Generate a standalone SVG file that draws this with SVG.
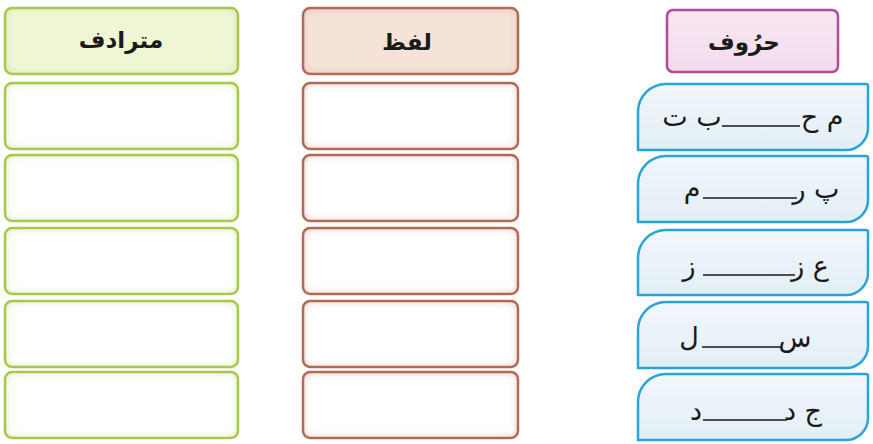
<svg xmlns="http://www.w3.org/2000/svg" width="873" height="444" viewBox="0 0 873 444">
<style>
.ur{font-family:"DejaVu Sans","Noto Sans",sans-serif;fill:#1a1a1a;text-anchor:middle;}
.hd{font-size:23px;font-weight:bold;}
.lt{font-size:27px;}
.gS{fill:none;stroke:#a8c84c;stroke-width:2.5;}
.bS{fill:none;stroke:#b06b57;stroke-width:2.5;}
.gF{fill:#ffffff;filter:url(#glowG);}
.gH{fill:#eff6d6;filter:url(#glowG);}
.bF{fill:#ffffff;filter:url(#glowB);}
.bH{fill:#f5e2d9;filter:url(#glowB);}
.blue{fill:url(#blueFill);stroke:#2aa3d6;stroke-width:2.5;}
.blank{stroke:#1a1a1a;stroke-width:1.6;}
</style>
<defs>
<filter id="glowG" x="-5%" y="-10%" width="110%" height="120%">
<feFlood flood-color="#cfe297"/>
<feComposite in2="SourceAlpha" operator="out"/>
<feGaussianBlur stdDeviation="4"/>
<feComposite in2="SourceAlpha" operator="in" result="g"/>
<feMerge><feMergeNode in="SourceGraphic"/><feMergeNode in="g"/></feMerge>
</filter>
<filter id="glowB" x="-5%" y="-10%" width="110%" height="120%">
<feFlood flood-color="#e3b9a9"/>
<feComposite in2="SourceAlpha" operator="out"/>
<feGaussianBlur stdDeviation="4"/>
<feComposite in2="SourceAlpha" operator="in" result="g"/>
<feMerge><feMergeNode in="SourceGraphic"/><feMergeNode in="g"/></feMerge>
</filter>
<linearGradient id="blueFill" x1="0" y1="0" x2="0" y2="1">
<stop offset="0" stop-color="#f2f7fb"/>
<stop offset="1" stop-color="#e2eef6"/>
</linearGradient>
<linearGradient id="pinkFill" x1="0" y1="0" x2="0" y2="1">
<stop offset="0" stop-color="#f8e8f3"/>
<stop offset="1" stop-color="#f2dcec"/>
</linearGradient>
</defs>
<rect width="873" height="444" fill="#ffffff"/>

<!-- Green column: مترادف -->
<g id="green-header">
<rect class="gH" x="5" y="8" width="233" height="66" rx="7"/>
<rect class="gS" x="5" y="8" width="233" height="66" rx="7"/>
<text class="ur hd" x="121" y="48">مترادف</text>
</g>
<g id="green-row1"><rect class="gF" x="5" y="83" width="233" height="66" rx="7"/><rect class="gS" x="5" y="83" width="233" height="66" rx="7"/></g>
<g id="green-row2"><rect class="gF" x="5" y="155" width="233" height="66" rx="7"/><rect class="gS" x="5" y="155" width="233" height="66" rx="7"/></g>
<g id="green-row3"><rect class="gF" x="5" y="228" width="233" height="66" rx="7"/><rect class="gS" x="5" y="228" width="233" height="66" rx="7"/></g>
<g id="green-row4"><rect class="gF" x="5" y="301" width="233" height="66" rx="7"/><rect class="gS" x="5" y="301" width="233" height="66" rx="7"/></g>
<g id="green-row5"><rect class="gF" x="5" y="372" width="233" height="66" rx="7"/><rect class="gS" x="5" y="372" width="233" height="66" rx="7"/></g>

<!-- Brown column: لفظ -->
<g id="brown-header">
<rect class="bH" x="303" y="8" width="215" height="66" rx="7"/>
<rect class="bS" x="303" y="8" width="215" height="66" rx="7"/>
<text class="ur hd" x="407" y="50">لفظ</text>
</g>
<g id="brown-row1"><rect class="bF" x="303" y="83" width="215" height="66" rx="7"/><rect class="bS" x="303" y="83" width="215" height="66" rx="7"/></g>
<g id="brown-row2"><rect class="bF" x="303" y="155" width="215" height="66" rx="7"/><rect class="bS" x="303" y="155" width="215" height="66" rx="7"/></g>
<g id="brown-row3"><rect class="bF" x="303" y="228" width="215" height="66" rx="7"/><rect class="bS" x="303" y="228" width="215" height="66" rx="7"/></g>
<g id="brown-row4"><rect class="bF" x="303" y="301" width="215" height="66" rx="7"/><rect class="bS" x="303" y="301" width="215" height="66" rx="7"/></g>
<g id="brown-row5"><rect class="bF" x="303" y="372" width="215" height="66" rx="7"/><rect class="bS" x="303" y="372" width="215" height="66" rx="7"/></g>

<!-- Pink header: حرُوف -->
<g id="pink-header">
<rect x="667" y="10" width="171" height="62" rx="6" fill="url(#pinkFill)" stroke="#b44a96" stroke-width="2.5"/>
<text class="ur hd" x="744" y="50">حرُوف</text>
</g>

<!-- Blue rows -->
<g id="blue-row1">
<path class="blue" d="M638,150 L638,112 A28,28 0 0 1 666,84 L866,84 Q868,84 868,86 L868,128 A22,22 0 0 1 846,150 Z"/>
<text class="ur lt" x="822" y="126">م ح</text>
<line class="blank" x1="722" y1="126" x2="800" y2="126"/>
<text class="ur lt" x="692" y="126">ب ت</text>
</g>
<g id="blue-row2">
<path class="blue" d="M638,222 L638,184 A28,28 0 0 1 666,156 L866,156 Q868,156 868,158 L868,200 A22,22 0 0 1 846,222 Z"/>
<text class="ur lt" x="816" y="198">پ ر</text>
<line class="blank" x1="703" y1="198" x2="797" y2="198"/>
<text class="ur lt" x="692" y="198">م</text>
</g>
<g id="blue-row3">
<path class="blue" d="M638,295 L638,258 A28,28 0 0 1 666,230 L866,230 Q868,230 868,232 L868,273 A22,22 0 0 1 846,295 Z"/>
<text class="ur lt" x="810" y="275">ع ز</text>
<line class="blank" x1="703" y1="275" x2="795" y2="275"/>
<text class="ur lt" x="689" y="275">ز</text>
</g>
<g id="blue-row4">
<path class="blue" d="M638,368 L638,330 A28,28 0 0 1 666,302 L866,302 Q868,302 868,304 L868,346 A22,22 0 0 1 846,368 Z"/>
<text class="ur lt" x="795" y="347">س</text>
<line class="blank" x1="702" y1="347" x2="782" y2="347"/>
<text class="ur lt" x="689" y="347">ل</text>
</g>
<g id="blue-row5">
<path class="blue" d="M638,440 L638,402 A28,28 0 0 1 666,374 L866,374 Q868,374 868,376 L868,418 A22,22 0 0 1 846,440 Z"/>
<text class="ur lt" x="803" y="420">ج د</text>
<line class="blank" x1="703" y1="420" x2="787" y2="420"/>
<text class="ur lt" x="696" y="420">د</text>
</g>

<g id="connectors"></g>
</svg>
